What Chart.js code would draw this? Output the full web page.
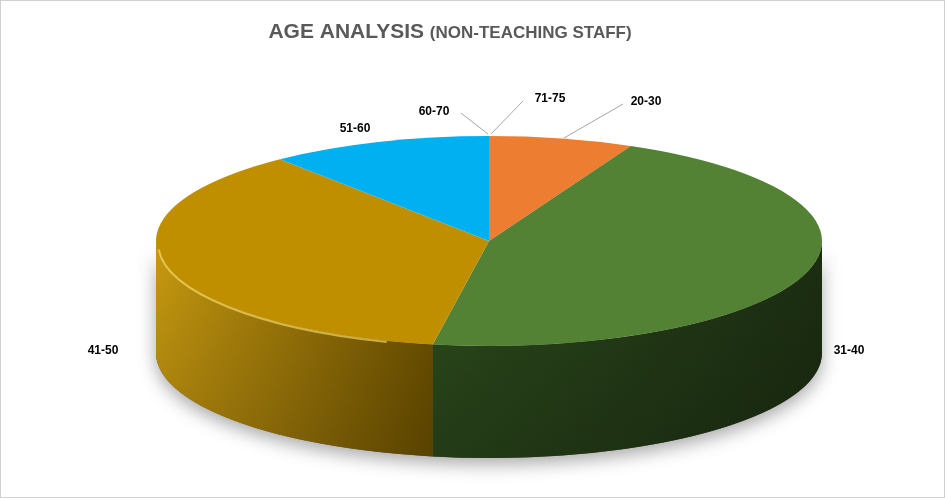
<!DOCTYPE html>
<html><head><meta charset="utf-8">
<script src="https://cdn.jsdelivr.net/npm/chart.js@4"></script>
<style>html,body{margin:0;padding:0;background:#fff}#w{width:943px;height:496px;border:1px solid #d0d0d0}</style>
</head><body><div id="w"><canvas id="c" width="943" height="496"></canvas></div>
<script>
const categories = ['20-30','31-40','41-50','51-60','60-70','71-75'];
const values = [7, 45.7, 36.5, 10.8, 0, 0];
const colors = ['#ED7D31','#548235','#BF8F00','#00B0F0','#A5A5A5','#4472C4'];
const sideLeft = ['#c0662a','#2c4a1c','#c89a10','#0090c0','#777','#335'];
const sideRight = ['#8a4316','#1c2e12','#6e5200','#006a90','#555','#223'];
const labelPos = [[645,101],[848,350],[102,350],[354,128],[433,111],[549,98]];
const leaders = [[[622,103],[563,137]],null,null,null,[[460,112],[487,133]],[[522,100],[490,133]]];

const geo = {cx:488, cy:240, rx:333, ry:105, d:112};
const pie3d = {
  id:'pie3d',
  beforeDatasetsDraw(chart){
    const ctx = chart.ctx, {cx,cy,rx,ry,d} = geo;
    const arcs = chart.getDatasetMeta(0).data;
    ctx.save();
    ctx.shadowColor='rgba(0,0,0,0.35)';ctx.shadowBlur=18;ctx.shadowOffsetY=6;
    ctx.beginPath();ctx.ellipse(cx,cy+d,rx,ry,0,0,Math.PI);ctx.lineTo(cx-rx,cy);ctx.ellipse(cx,cy,rx,ry,0,Math.PI,0,true);ctx.closePath();
    ctx.fillStyle='#555';ctx.fill();ctx.restore();
    arcs.forEach((a,i)=>{
      const s0=a.startAngle, e0=a.endAngle;
      [[s0,e0],[s0-2*Math.PI,e0-2*Math.PI],[s0+2*Math.PI,e0+2*Math.PI]].forEach(([p,q])=>{
        const ss=Math.max(p,0), ee=Math.min(q,Math.PI);
        if(ee<=ss) return;
        const xa=cx+rx*Math.cos(ee), xb=cx+rx*Math.cos(ss);
        const g=ctx.createLinearGradient(Math.min(xa,xb),0,Math.max(xa,xb),0);
        g.addColorStop(0,sideLeft[i]);g.addColorStop(1,sideRight[i]);
        ctx.beginPath();
        ctx.ellipse(cx,cy,rx,ry,0,ss,ee);
        ctx.ellipse(cx,cy+d,rx,ry,0,ee,ss,true);
        ctx.closePath();ctx.fillStyle=g;ctx.fill();
        const g2=ctx.createLinearGradient(0,cy,0,cy+ry+d);
        g2.addColorStop(0,'rgba(0,0,0,0)');g2.addColorStop(1,'rgba(0,0,0,0.2)');
        ctx.fillStyle=g2;ctx.fill();
      });
    });
    arcs.forEach((a,i)=>{
      if(a.endAngle-a.startAngle<=0) return;
      ctx.beginPath();ctx.moveTo(cx,cy);
      ctx.ellipse(cx,cy,rx,ry,0,a.startAngle,a.endAngle);ctx.closePath();
      ctx.fillStyle=colors[i];ctx.fill();
    });
    ctx.beginPath();ctx.ellipse(cx,cy+2,rx-2,ry-1,0,Math.PI*0.6,Math.PI*0.98);
    ctx.strokeStyle='rgba(255,230,120,0.6)';ctx.lineWidth=2;ctx.stroke();
    ctx.font='bold 12px "Liberation Sans", Arial';ctx.fillStyle='#000';ctx.textAlign='center';ctx.textBaseline='middle';
    categories.forEach((c,i)=>{
      const l=leaders[i];
      if(l){ctx.beginPath();ctx.moveTo(l[0][0],l[0][1]);ctx.lineTo(l[1][0],l[1][1]);ctx.strokeStyle='#a6a6a6';ctx.lineWidth=1;ctx.stroke();}
      ctx.fillText(c,labelPos[i][0],labelPos[i][1]);
    });
    ctx.fillStyle='#595959';ctx.textAlign='left';ctx.textBaseline='alphabetic';
    const t1='AGE ANALYSIS ', t2='(NON-TEACHING STAFF)';
    ctx.font='bold 21px "Liberation Sans", Arial';const w1=ctx.measureText(t1).width;
    ctx.font='bold 17px "Liberation Sans", Arial';const w2=ctx.measureText(t2).width;
    const x0=449-(w1+w2)/2;
    ctx.font='bold 21px "Liberation Sans", Arial';ctx.fillText(t1,x0,37);
    ctx.font='bold 17px "Liberation Sans", Arial';ctx.fillText(t2,x0+w1,37);
    return false;
  }
};
new Chart(document.getElementById('c'),{
  type:'pie',
  data:{labels:categories,datasets:[{data:values,backgroundColor:colors,borderWidth:0}]},
  options:{responsive:false,animation:false,plugins:{legend:{display:false},tooltip:{enabled:false}}},
  plugins:[pie3d]
});
</script></body></html>
